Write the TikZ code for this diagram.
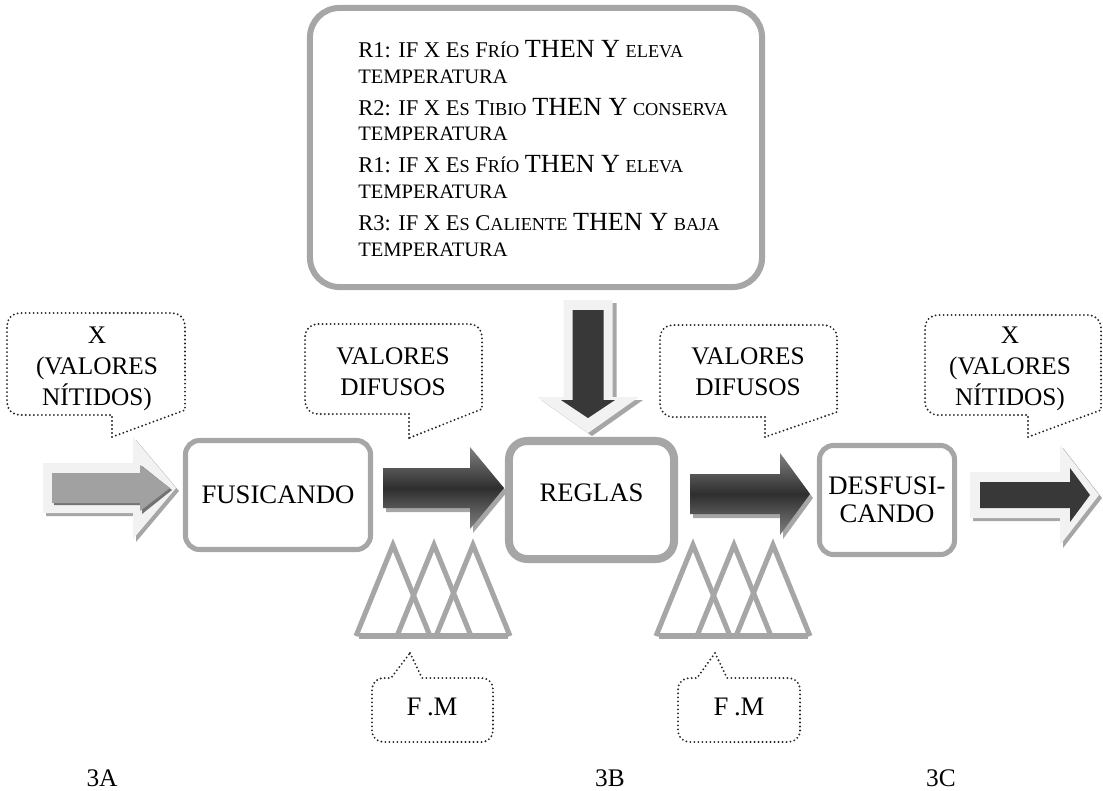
\documentclass[tikz,border=0pt]{standalone}
\usepackage{fontspec}
\setmainfont{Liberation Serif}
\usepackage{tikz}
\usetikzlibrary{positioning}
\newcommand{\sz}[2]{\fontsize{#1}{#2}\selectfont}
\newcommand{\lo}[1]{{\sz{13}{15}#1}}
\newcommand{\hi}[1]{{\sz{18.6}{20}#1}}
\tikzstyle{procbox}=[rectangle, draw=black!35, line width=3.6pt, rounded corners=10pt, align=center, inner sep=0pt, font=\sz{19}{20}]
\tikzstyle{rulebox}=[rectangle, draw=black!35, line width=4.3pt, rounded corners=21pt]
\tikzstyle{ruleline}=[anchor=base west, inner sep=0pt, font=\sz{16}{18}]
\tikzstyle{templine}=[anchor=base west, inner sep=0pt, font=\sz{14.6}{17}]
\tikzstyle{bubbletext}=[anchor=base, inner sep=0pt, align=center, font=\sz{18}{22}]
\tikzstyle{stagelabel}=[anchor=base, inner sep=0pt, font=\sz{18}{20}]
\tikzstyle{dotline}=[draw=black!85, line width=1.5pt, dash pattern=on 0pt off 2.85pt, line cap=round]
\tikzstyle{memb}=[draw=black!35, line width=3.6pt]
\tikzstyle{arrglow}=[fill=black!5]
\tikzstyle{arrshadow}=[fill=black!35]
\tikzstyle{arrshadowdk}=[fill=black!55]
\tikzstyle{arrmid}=[fill=black!37]
\tikzstyle{arrcore}=[fill=black!78]
\tikzstyle{arrgrad}=[top color=black!50, bottom color=black!50, middle color=black!82]
% block arrow to the right: style, x start, x head, x tip, y, shaft half, head half
\newcommand{\rarr}[7]{\path[#1] (#2,#5-#6) -- (#3,#5-#6) -- (#3,#5-#7) -- (#4,#5) -- (#3,#5+#7) -- (#3,#5+#6) -- (#2,#5+#6) -- cycle;}
% block arrow downwards: style, y start, y head, y tip, x, shaft half, head half
\newcommand{\darr}[7]{\path[#1] (#5-#6,#2) -- (#5-#6,#3) -- (#5-#7,#3) -- (#5,#4) -- (#5+#7,#3) -- (#5+#6,#3) -- (#5+#6,#2) -- cycle;}
% speech bubble: x left, x right, y top, y bottom, x of tail, y of tip
\newcommand{\bubble}[6]{\draw[dotline] (#5,#6) -- (#5,#4) [rounded corners=9pt] -- (#1,#4) -- (#1,#3) -- (#2,#3) [sharp corners] -- (#2,#4-5) -- cycle;}
\begin{document}
\begin{tikzpicture}[x=0.025cm, y=-0.025cm]
\useasboundingbox (0,0) rectangle (1103,790);

%Rules
\node[rulebox, minimum width=11.3cm, minimum height=6.975cm] (rules) at (536,147.5) {};
\node[ruleline] (r1) at (358,57.5) {R1: IF X E\lo{S} F\lo{RÍO} \hi{THEN Y} \lo{ELEVA}};
\node[templine] (t1) at (358,83.5) {TEMPERATURA};
\node[ruleline] (r2) at (358,115) {R2: IF X E\lo{S} T\lo{IBIO} \hi{THEN Y} \lo{CONSERVA}};
\node[templine] (t2) at (358,140.5) {TEMPERATURA};
\node[ruleline] (r3) at (358,172) {R1: IF X E\lo{S} F\lo{RÍO} \hi{THEN Y} \lo{ELEVA}};
\node[templine] (t3) at (358,198.5) {TEMPERATURA};
\node[ruleline] (r4) at (358,230) {R3: IF X E\lo{S} C\lo{ALIENTE} \hi{THEN Y} \lo{BAJA}};
\node[templine] (t4) at (358,256) {TEMPERATURA};

%Arrows
\darr{arrshadow}{303}{400}{436}{592}{24.5}{51}
\darr{arrglow}{300}{397}{433}{588}{24.5}{51}
\darr{arrcore}{310}{400}{418}{588}{15.5}{27}
\rarr{arrshadow}{46}{136}{179}{491}{25}{51}
\rarr{arrglow}{43}{133}{176}{488}{25}{51}
\rarr{arrshadowdk}{54}{142}{172}{490}{15}{24}
\rarr{arrmid}{52}{140}{170}{488}{15}{23}
\rarr{arrshadow}{386}{473}{507}{492}{20}{41}
\rarr{arrgrad}{383}{470}{504}{488}{20}{41}
\rarr{arrshadow}{693}{783}{813}{498}{20}{41}
\rarr{arrgrad}{690}{780}{810}{494}{20}{41}
\rarr{arrshadow}{973}{1063}{1102}{498}{23}{50}
\rarr{arrglow}{970}{1060}{1099}{495}{23}{50}
\rarr{arrcore}{980}{1070}{1090}{495}{13}{27}

%Blocks
\node[procbox, minimum width=4.625cm, minimum height=2.725cm] (fus) at (278,495) {FUSICANDO};
\node[procbox, line width=5.7pt, rounded corners=13pt, minimum width=4.125cm, minimum height=2.95cm, text depth=11pt] (reg) at (591.5,500) {REGLAS};
\node[procbox, minimum width=3.375cm, minimum height=2.725cm] (desf) at (887,500) {DESFUSI-\\CANDO};

%Membership functions
\foreach \g in {0,300}{
  \foreach \a in {393,434,473}
    \draw[memb] (\g+\a-37,636) -- (\g+\a,545) -- (\g+\a+37,636);
  \draw[memb] (\g+359,636) -- (\g+508,636);
}

%Bubbles
\bubble{7}{185}{313}{415}{112}{437}
\node[bubbletext] (xin) at (97,405) {X\\(VALORES\\NÍTIDOS)};
\bubble{305}{482}{324}{414}{409}{438}
\node[bubbletext] (dif1) at (393,395) {VALORES\\DIFUSOS};
\bubble{660}{837}{325}{417}{765}{437}
\node[bubbletext] (dif2) at (748,395) {VALORES\\DIFUSOS};
\bubble{925}{1101}{315}{415}{1028}{437}
\node[bubbletext] (xout) at (1010,405) {X\\(VALORES\\NÍTIDOS)};
\draw[dotline] (410,653) -- (422,678) [rounded corners=8pt] -- (493,678) -- (493,742) -- (372,742) -- (372,678) [sharp corners] -- (391,678) -- cycle;
\node[bubbletext, font=\sz{19}{22}] (fm1) at (432,715) {F\kern4pt.M};
\draw[dotline] (715,653) -- (727,678) [rounded corners=8pt] -- (800,678) -- (800,742) -- (678,742) -- (678,678) [sharp corners] -- (697,678) -- cycle;
\node[bubbletext, font=\sz{19}{22}] (fm2) at (739,715) {F\kern4pt.M};

%Stages
\node[stagelabel] (sa) at (102,786) {3A};
\node[stagelabel] (sb) at (610,786) {3B};
\node[stagelabel] (sc) at (941,786) {3C};
\end{tikzpicture}
\end{document}
